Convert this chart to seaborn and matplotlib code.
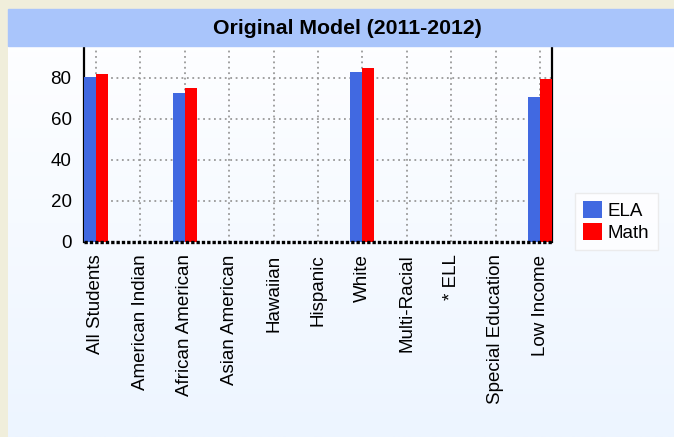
import matplotlib
matplotlib.use("Agg")
import matplotlib.pyplot as plt
import matplotlib.patches as mpatches
import numpy as np
import pandas as pd
import seaborn as sns

groups = ["All Students", "American Indian", "African American", "Asian American",
          "Hawaiian", "Hispanic", "White", "Multi-Racial", "* ELL",
          "Special Education", "Low Income"]
ela = [80.5, 0, 72.8, 0, 0, 0, 83.0, 0, 0, 0, 70.9]
math = [82.0, 0, 75.0, 0, 0, 0, 84.7, 0, 0, 0, 79.7]
subjects = ["ELA", "Math"]
yticks = [0, 20, 40, 60, 80]

df = pd.DataFrame({
    "group": groups * 2,
    "subject": ["ELA"] * len(groups) + ["Math"] * len(groups),
    "score": ela + math,
})

sns.set_theme(style="white")
plt.rcParams["font.family"] = ["Liberation Sans", "DejaVu Sans"]

W, H = 674, 437
fig = plt.figure(figsize=(W / 100, H / 100), dpi=100)
fig.patch.set_facecolor("#f0eedb")

# panel with a soft white -> light blue gradient
bg = fig.add_axes([8 / W, 0, 1 - 8 / W, 1 - 9 / H])
grad = np.linspace(0, 1, 256).reshape(-1, 1)
cmap = matplotlib.colors.LinearSegmentedColormap.from_list("bg", ["#ffffff", "#edf5ff"])
bg.imshow(grad, aspect="auto", cmap=cmap, extent=[0, 1, 0, 1], origin="upper")
bg.set_axis_off()

# title bar
fig.patches.append(mpatches.Rectangle((8 / W, 1 - 46 / H), 1 - 8 / W, 37 / H,
                                      transform=fig.transFigure, color="#a9c5fb",
                                      zorder=1))
fig.text(0.516, 1 - 28 / H, "Original Model (2011-2012)", ha="center", va="center",
         fontsize=15.3, fontweight="bold", color="black")

ax = fig.add_axes([84 / W, 1 - 242 / H, (552 - 84) / W, (242 - 46) / H])
ax.set_facecolor("none")
sns.barplot(data=df, x="group", y="score", hue="subject", order=groups,
            hue_order=subjects, palette=["#4169e1", "#ff0000"], width=0.54,
            gap=0, saturation=1, linewidth=0, ax=ax, legend=True, zorder=3)

ax.set_xlim(-0.27, len(groups) - 1 + 0.27)
ax.set_ylim(0, 95.6)
ax.set_yticks(yticks)
ax.set_xlabel("")
ax.set_ylabel("")
ax.set_xticks(range(len(groups)))
ax.set_xticklabels(groups, rotation=90, fontsize=13.5, va="top", color="black")
ax.tick_params(axis="y", length=0, pad=9, labelsize=13.5, labelcolor="black")
ax.tick_params(axis="x", length=0, pad=9)

for y in yticks[1:]:
    ax.axhline(y, color="#999999", linestyle=(0, (1, 2)), linewidth=1.3, zorder=1)
for x in range(len(groups)):
    ax.axvline(x, color="#999999", linestyle=(0, (1, 2)), linewidth=1.3, zorder=1)
ax.axhline(0, color="black", linestyle=(0, (1, 0.6)), linewidth=2.4, zorder=4,
           clip_on=False)

ax.spines["top"].set_visible(False)
ax.spines["bottom"].set_visible(False)
for side in ["left", "right"]:
    ax.spines[side].set_color("black")
    ax.spines[side].set_linewidth(1.6)

leg = ax.legend(loc="upper left", bbox_to_anchor=(575 / W, 1 - 193 / H),
                bbox_transform=fig.transFigure, frameon=True, fontsize=13.5,
                handlelength=1.0, handleheight=1.0, handletextpad=0.3,
                labelspacing=0.15, borderpad=0.45, borderaxespad=0,
                fancybox=False)
leg.get_frame().set_edgecolor("#e8e8e8")
leg.get_frame().set_facecolor("white")
for t in leg.get_texts():
    t.set_color("black")

fig.savefig("out.png", dpi=100, facecolor=fig.get_facecolor())
